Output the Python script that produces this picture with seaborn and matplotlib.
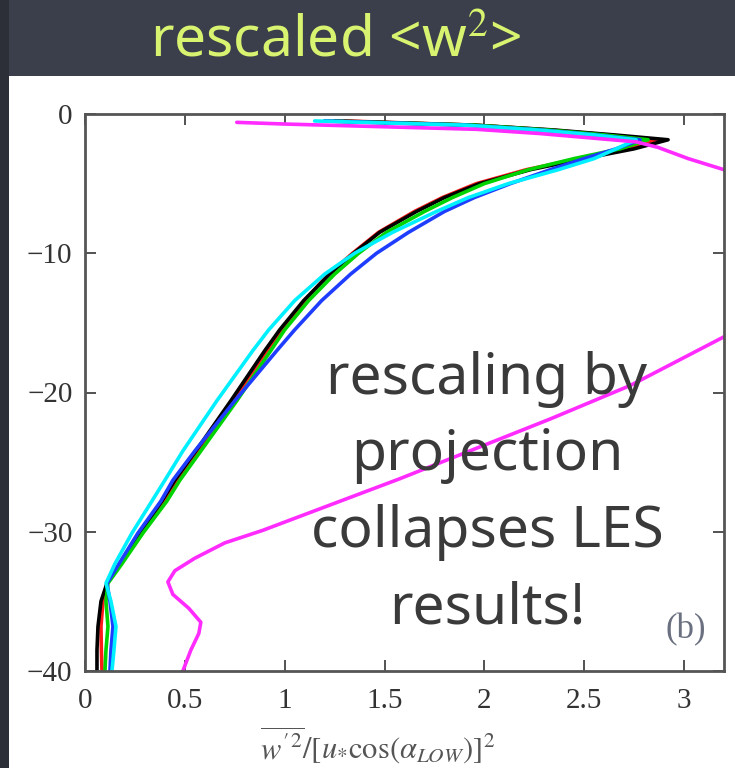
import matplotlib
matplotlib.use("Agg")
import matplotlib.pyplot as plt
import seaborn as sns
import pandas as pd
from matplotlib.patches import Rectangle

# ---- data ----
depth = [-0.5, -0.8, -1.15, -1.5, -1.85, -2.5, -3.2, -4.0, -5.0, -6.0, -7.0, -8.5,
         -10.0, -11.5, -13.4, -15.5, -17.0, -20.6, -24.2, -26.3, -27.8, -30.1,
         -32.3, -33.7, -35.0, -36.8, -38.5, -40.0]
black = [1.25, 1.95, 2.35, 2.65, 2.92, 2.75, 2.50, 2.23, 1.975, 1.80, 1.66, 1.475,
         1.345, 1.225, 1.095, 0.975, 0.90, 0.73, 0.555, 0.45, 0.385, 0.275,
         0.175, 0.11, 0.08, 0.065, 0.06, 0.06]
red = [1.30, 1.95, 2.33, 2.62, 2.87, 2.72, 2.48, 2.21, 1.96, 1.79, 1.65, 1.47,
       1.34, 1.22, 1.10, 0.985, 0.91, 0.74, 0.565, 0.46, 0.395, 0.28,
       0.18, 0.11, 0.09, 0.08, 0.082, 0.085]
green = [1.20, 1.95, 2.32, 2.60, 2.82, 2.68, 2.45, 2.22, 2.00, 1.84, 1.70, 1.51,
         1.37, 1.25, 1.12, 1.00, 0.93, 0.76, 0.58, 0.475, 0.41, 0.29,
         0.185, 0.115, 0.105, 0.115, 0.105, 0.10]
blue = [1.20, 1.90, 2.28, 2.55, 2.78, 2.66, 2.50, 2.33, 2.13, 1.95, 1.80, 1.62,
        1.46, 1.33, 1.185, 1.05, 0.96, 0.75, 0.55, 0.44, 0.38, 0.265,
        0.17, 0.11, 0.125, 0.14, 0.13, 0.125]
cyan = [1.15, 1.90, 2.27, 2.55, 2.76, 2.66, 2.55, 2.37, 2.12, 1.92, 1.76, 1.54,
        1.35, 1.20, 1.05, 0.92, 0.84, 0.66, 0.49, 0.40, 0.335, 0.235,
        0.15, 0.105, 0.13, 0.155, 0.145, 0.135]

mag_upper_x = [0.76, 1.0, 1.96, 2.275, 2.76, 2.87, 3.02, 3.2, 3.3]
mag_upper_z = [-0.6, -0.72, -1.1, -1.4, -2.0, -2.4, -3.2, -4.0, -4.5]
mag_lower_x = [3.3, 3.2, 2.73, 2.33, 1.575, 0.89, 0.70, 0.55, 0.45, 0.415, 0.44,
               0.52, 0.58, 0.57, 0.53, 0.49]
mag_lower_z = [-15.3, -16.0, -19.5, -21.9, -26.2, -29.9, -30.8, -31.9, -32.8, -33.6,
               -34.5, -35.5, -36.5, -37.3, -38.5, -40.0]

x_ticks = [0, 0.5, 1, 1.5, 2, 2.5, 3]
x_tick_labels = ["0", "0.5", "1", "1.5", "2", "2.5", "3"]
y_ticks = [-40, -30, -20, -10, 0]
y_tick_labels = ["\u221240", "\u221230", "\u221220", "\u221210", "0"]

# ---- style ----
sns.set_theme(style="ticks")
plt.rcParams["font.family"] = ["Liberation Serif", "DejaVu Sans"]
plt.rcParams["mathtext.fontset"] = "stix"

fig = plt.figure(figsize=(7.35, 7.68), dpi=100, facecolor="#3b3f4c")
fig.patches.append(Rectangle((0, 0), 9 / 735, 1, transform=fig.transFigure,
                             facecolor="#2c2f38", edgecolor="none", zorder=-2))
fig.patches.append(Rectangle((9 / 735, 0), 1 - 9 / 735, 1 - 76 / 768,
                             transform=fig.transFigure, facecolor="white",
                             edgecolor="none", zorder=-1))

ax = fig.add_axes([85 / 735, 1 - 671 / 768, 639 / 735, 557 / 768])
ax.set_facecolor("white")

lw = 2.6
series = [(red, "#ff1a1a"), (black, "#000000"), (green, "#00d400"),
          (blue, "#1f3dff"), (cyan, "#00f0ff")]
for xs, col in series:
    df = pd.DataFrame({"x": xs, "z": depth})
    sns.lineplot(data=df, x="x", y="z", sort=False, estimator=None,
                 color=col, lw=lw, ax=ax, solid_joinstyle="round")

for xs, zs in [(mag_upper_x, mag_upper_z), (mag_lower_x, mag_lower_z)]:
    df = pd.DataFrame({"x": xs, "z": zs})
    sns.lineplot(data=df, x="x", y="z", sort=False, estimator=None,
                 color="#ff2bff", lw=lw, ax=ax, solid_joinstyle="round")

ax.set_xlim(0, 3.2)
ax.set_ylim(-40, 0)
ax.set_xticks(x_ticks)
ax.set_xticklabels(x_tick_labels)
ax.set_yticks(y_ticks)
ax.set_yticklabels(y_tick_labels)
ax.set_ylabel("")
ax.tick_params(direction="in", top=True, right=True, length=8, width=1.3,
               color="#444444", labelsize=21, labelcolor="#333333", pad=9)
ax.tick_params(axis="x", pad=12)
for s in ax.spines.values():
    s.set_visible(True)
    s.set_color("#555555")
    s.set_linewidth(2)

ax.set_xlabel(r"$\overline{w'^{2}}/[u_{*}\cos(\alpha_{LOW})]^{2}$",
              fontsize=22, color="#555555")
ax.xaxis.set_label_coords((378 - 85) / 639, (671 - 745) / 557)
ax.xaxis.label.set_va("center")

fig.text(686 / 735, 1 - 630 / 768, "(b)", fontsize=25, color="#6b7080",
         ha="center", va="center", family=["Liberation Serif"])

fig.text(487 / 735, 1 - 494 / 768, "rescaling by\nprojection\ncollapses LES\nresults!",
         fontsize=41, color="#3a3a3a", ha="center", va="center",
         multialignment="center", linespacing=1.45, family=["Noto Sans"])

fig.text(336 / 735, 1 - 42 / 768, "rescaled <w$^{2}$>", fontsize=41,
         color="#d8f36f", ha="center", va="center", family=["Noto Sans"])

fig.savefig("out.png", dpi=100, facecolor=fig.get_facecolor())
